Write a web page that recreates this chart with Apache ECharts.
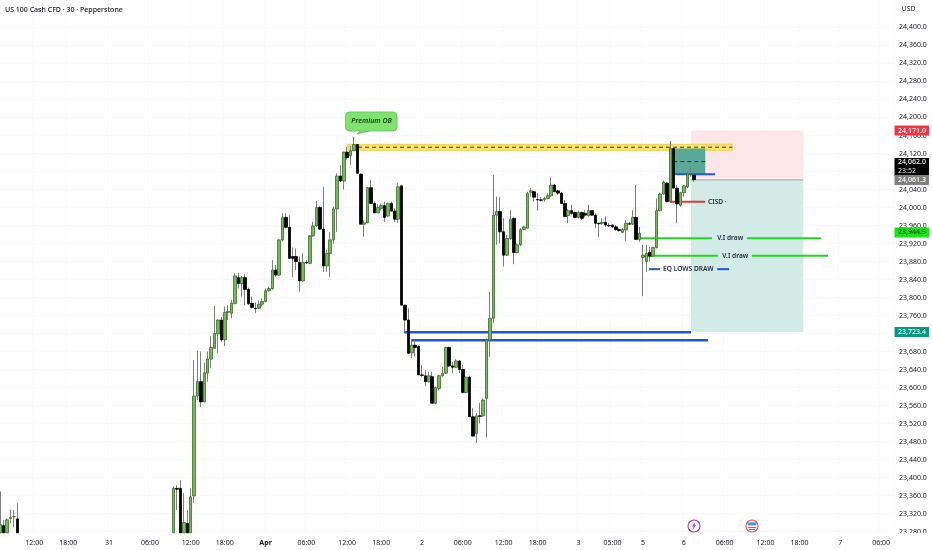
<!DOCTYPE html>
<html>
<head>
<meta charset="utf-8">
<script src="https://cdn.jsdelivr.net/npm/echarts@6/dist/echarts.min.js"></script>
<style>html,body{margin:0;padding:0;background:#fff}#c{width:932px;height:550px}</style>
</head>
<body>
<div id="c"></div>
<script>
// [open, high, low, close]
const firstBars = [
[23277,23369,23277,23295],[23293,23306,23277,23277],[23277,23309,23277,23306],[23309,23329,23298,23311],[23313,23328,23289,23313],[23308,23343,23277,23277]
];
const firstBarsStart = 0;
const riseBars = [
[23277,23380,23277,23376],[23376,23383,23328,23374],[23376,23394,23277,23277],[23277,23365,23277,23300],[23298,23328,23277,23277],[23277,23376,23277,23357],
[23359,23661,23343,23581],[23581,23682,23572,23613],[23613,23680,23557,23568],[23568,23655,23567,23633],[23632,23680,23613,23663],[23663,23714,23643,23689],
[23687,23781,23687,23720],[23719,23751,23677,23750],[23750,23757,23702,23706],[23706,23780,23692,23767],[23767,23783,23750,23769],[23765,23794,23754,23787],
[23786,23854,23786,23848],[23844,23855,23820,23831],[23831,23848,23802,23844],[23844,23852,23783,23818],[23818,23822,23783,23786],[23787,23802,23776,23778],
[23776,23789,23766,23775],[23776,23794,23774,23785],[23785,23798,23780,23791],[23791,23820,23789,23815],[23815,23824,23813,23820],[23820,23883,23817,23861],
[23861,23872,23846,23850],[23850,23929,23848,23928],[23928,23987,23924,23978],[23978,23987,23954,23956],[23956,23983,23886,23887],[23891,23911,23845,23887],
[23891,23909,23861,23880],[23878,23891,23813,23837],[23837,23898,23835,23878],[23878,23883,23874,23877],[23876,23939,23874,23937],[23937,23968,23935,23959],
[23959,24014,23957,24000],[24000,24003,23950,23952],[23952,24046,23857,23870],[23870,23906,23857,23898],[23898,23946,23846,23928],[23928,24002,23919,23997],
[23997,24076,23946,24070],[24070,24094,24057,24059],[24059,24124,24040,24123],[24123,24135,24106,24111],[24115,24137,24094,24126],[24126,24157,24126,24140],
[24140,24141,24076,24076]
];
const riseBarsStart = 51;
const fallBars = [
[24074,24076,23963,23963],[23963,23971,23935,23966],[23966,24045,23965,24044],[24044,24061,24009,24009],[24009,24013,23987,23988],[23988,24008,23988,24000],
[23998,24009,23994,24004],[24004,24013,23968,23978],[23981,24011,23978,24009],[24009,24013,23991,23992],[23992,23998,23968,23974],[23974,24055,23966,24046],
[24048,24050,23783,23783],[23783,23784,23724,23750],[23750,23776,23676,23676],[23677,23706,23665,23694],[23694,23704,23669,23689],[23691,23694,23628,23628],
[23628,23650,23624,23627],[23626,23639,23603,23613],[23613,23635,23611,23626],[23624,23635,23565,23565],[23565,23602,23563,23600],[23598,23628,23594,23626],
[23626,23646,23624,23632],[23632,23691,23630,23689],[23689,23691,23646,23648],[23648,23657,23632,23645],[23645,23663,23643,23659],[23659,23661,23632,23640],
[23640,23650,23587,23589],[23589,23624,23587,23623],[23623,23626,23535,23535],[23535,23554,23492,23492],[23498,23543,23477,23537],[23537,23566,23520,23536],
[23537,23576,23535,23572]
];
const fallBarsStart = 106;
const reboundBars = [
[23576,23709,23489,23706],[23706,23813,23668,23754],[23754,24072,23743,23983],[23983,24024,23917,23991],[23991,24023,23920,23946],[23946,23976,23869,23894],
[23894,23939,23892,23931],[23931,23994,23928,23974],[23976,23978,23874,23900],[23900,23920,23898,23917],[23917,23954,23914,23951],[23951,23959,23950,23957],
[23954,24035,23954,24032],[24034,24043,24024,24037],[24035,24037,24013,24023],[24018,24032,23993,24017],[24017,24023,24013,24016],[24017,24024,24013,24020],
[24020,24032,24018,24026],[24026,24067,24024,24050],[24050,24052,24034,24035],[24037,24039,24028,24032],[24032,24035,24009,24009],[24009,24017,23978,23980],
[23982,23996,23965,23993],[23993,24006,23983,23987],[23989,23991,23976,23978],[23978,23993,23976,23989],[23989,23991,23972,23976],[23987,23994,23978,23983],
[23982,24006,23980,23993],[23993,23994,23981,23983],[23983,23987,23954,23965],[23965,23966,23934,23964],[23965,23976,23961,23967],[23967,23980,23957,23961],
[23960,23965,23957,23959],[23961,23963,23954,23957],[23957,23961,23948,23951],[23951,23954,23946,23949],[23945,23954,23943,23951],[23950,23972,23926,23965],
[23964,23968,23961,23963],[23963,23994,23961,23978],[23978,24050,23928,23929],[23929,23957,23924,23943],[23889,23917,23803,23894],[23880,23917,23857,23898],
[23900,23913,23880,23892],[23892,23913,23891,23911],[23911,24020,23909,23993],[23993,24033,23991,24030],[24030,24060,24028,24056],[24054,24057,24011,24013],
[24013,24148,24013,24131],[24131,24131,24043,24043],[24043,24050,23965,24008],[24005,24035,24002,24033],[24033,24050,24024,24048],[24046,24080,24043,24074],
[24073,24089,24068,24075],[24072,24076,24057,24062]
];
const reboundBarsStart = 143;
const barSlots = 263;

const timeLabels = ['12:00','18:00','31','06:00','12:00','18:00','Apr','06:00','12:00','18:00','2','06:00','12:00','18:00','3','05:00','5','6','06:00','12:00','18:00','7','06:00'];
const timeLabelBars = [10,20,32,44,56,66,78,90,102,112,124,136,148,158,170,180,189,201,213,225,235,247,259];
const priceTicks = [24400,24360,24320,24280,24240,24200,24160,24120,24080,24040,24000,23960,23920,23880,23840,23800,23760,23720,23680,23640,23600,23560,23520,23480,23440,23400,23360,23320,23280];

// [startBar, endBar, priceA, priceB]
const zones = [
  [203.1,236.1,24171,24061.3],
  [203.1,236.1,24061.3,23723.4],
  [102.2,215.2,24140.4,24127],
  [197.9,207.3,24131,24074]
];
const zoneFills = ['#fde6e7','#d3ebe6','#fbe36f','#5aa998'];
const zoneEdges = [null,null,'#e7c544',null];

// [startBar, endBar, price]
const levels = [
  [105.2,215.2,24134],[197.9,207.3,24102],[203.1,236.1,24061.3],
  [197.9,210.2,24074],[196.9,207.3,24013],
  [188.1,209.3,23931.4],[219.6,241.4,23931.4],
  [189,211,23892.9],[221,243.4,23892.9],
  [190.8,194,23863],[210.8,214.3,23863],
  [118.7,203.1,23722.7],[120.8,208.1,23705]
];
const levelColors = ['#3d3a1a','#243f38','#a4a4a4','#1f57dc','#e0383e','#1fd81f','#1fd81f','#1fd81f','#1fd81f','#1f57dc','#1f57dc','#1f57dc','#1f57dc'];
const levelWidths = [1,1,1,2,2,2,2,2,2,2,2,2.4,2.4];
const levelDashed = [1,1,0,0,0,0,0,0,0,0,0,0,0];

const noteTexts = ['CISD ·','V.I draw','V.I draw','EQ LOWS DRAW'];
// [bar, price]
const notePositions = [[208.1,24013],[210.8,23931.4],[212.3,23892.9],[194.9,23863]];

const calloutText = 'Premium OB';
const calloutAnchor = [105.2,24210]; // [bar, price]

const tagTexts = ['24,171.0','24,062.0','24,061.3','23,944.5','23,723.4'];
const tagPrices = [24171,24062,24061.3,23944.5,23723.4];
const tagFills = ['#f23645','#000000','#808080','#14e414','#089981'];
const tagInk = ['#fff','#fff','#fff','#0b3d0b','#fff'];

const FONT = '"Noto Sans", "Open Sans", sans-serif';

const pad = (rows, start, out) => rows.forEach((r, k) => { out[start + k] = r; });
const bars = new Array(barSlots).fill(null);
pad(firstBars, firstBarsStart, bars);
pad(riseBars, riseBarsStart, bars);
pad(fallBars, fallBarsStart, bars);
pad(reboundBars, reboundBarsStart, bars);

const blank = ['-','-','-','-'];
const wickData = bars.map(r => r ? [r[0], r[3], r[2], r[1]] : blank);
const bodyData = bars.map(r => r ? [r[0], r[3], Math.min(r[0], r[3]), Math.max(r[0], r[3])] : blank);

const categories = new Array(barSlots).fill('');
timeLabelBars.forEach((b, k) => { categories[b] = timeLabels[k]; });

const fmtPrice = v => v.toLocaleString('en-US', {minimumFractionDigits: 1, maximumFractionDigits: 1});

const option = {
  animation: false,
  backgroundColor: '#ffffff',
  title: [
    {text: 'US 100 Cash CFD · 30 · Pepperstone', left: 5, top: 6, padding: 0, textStyle: {fontFamily: FONT, fontSize: 7, fontWeight: 500, color: '#131722'}},
    {text: 'USD', left: 901.7, top: 6, padding: 0, textStyle: {fontFamily: FONT, fontSize: 6.8, fontWeight: 400, color: '#131722'}}
  ],
  grid: {left: -1.4, right: 39, top: 0, height: 533, containLabel: false, outerBoundsMode: 'none'},
  xAxis: [
    {
      type: 'category', data: categories, boundaryGap: true, z: 0,
      axisLine: {show: false}, axisTick: {show: false},
      axisLabel: {
        color: '#131722', fontFamily: FONT, fontSize: 7, margin: 6, hideOverlap: false,
        interval: (i, v) => v !== '',
        formatter: v => v === 'Apr' ? '{b|Apr}' : v,
        rich: {b: {fontWeight: 700, fontSize: 7, color: '#131722', fontFamily: FONT}}
      },
      splitLine: {show: true, interval: (i, v) => v !== '', lineStyle: {color: '#f8f9fa', width: 1}}
    },
    {type: 'value', min: -0.5, max: barSlots - 0.5, show: false}
  ],
  yAxis: {
    type: 'value', position: 'right', min: 23276.7, max: 24461.1, z: 0,
    axisLine: {show: false},
    axisTick: {show: false, customValues: priceTicks},
    axisLabel: {color: '#131722', fontFamily: FONT, fontSize: 7, margin: 6, padding: [1, 0, 0, 0], customValues: priceTicks, formatter: fmtPrice, showMinLabel: true, showMaxLabel: true},
    splitLine: {show: true, lineStyle: {color: '#f8f9fa', width: 1}}
  },
  graphic: [
    {type: 'rect', z: 1, shape: {x: 893, y: 533, width: 39, height: 17}, style: {fill: '#fff'}},
    {type: 'group', x: 694, y: 526, z: 5, children: [
      {type: 'circle', z: 5, shape: {cx: 0, cy: 0, r: 6}, style: {fill: '#fff', stroke: '#a33fc0', lineWidth: 1.1}},
      {type: 'polygon', z: 6, shape: {points: [[1.2,-3.6],[-2.2,0.6],[-0.3,0.6],[-1.2,3.6],[2.2,-0.8],[0.3,-0.8]]}, style: {fill: '#a33fc0'}}
    ]},
    {type: 'group', x: 752, y: 526, z: 5, children: [
      {type: 'circle', z: 5, shape: {cx: 0, cy: 0, r: 6}, style: {fill: '#fff', stroke: '#ef5350', lineWidth: 1.1}},
      {type: 'rect', z: 6, shape: {x: -4.4, y: -3.6, width: 8.8, height: 3}, style: {fill: '#4a90d9'}},
      {type: 'rect', z: 6, shape: {x: -4.2, y: 0.9, width: 8.4, height: 1.1}, style: {fill: '#e0555a'}},
      {type: 'rect', z: 6, shape: {x: -3.2, y: 3, width: 6.4, height: 1}, style: {fill: '#e0555a'}}
    ]}
  ],
  series: [
    {
      type: 'custom', name: 'zones', xAxisIndex: 1, yAxisIndex: 0, z: 1, silent: true, clip: true,
      data: zones,
      renderItem: (p, api) => {
        const a = api.coord([api.value(0), api.value(2)]);
        const b = api.coord([api.value(1), api.value(3)]);
        return {type: 'rect', shape: {x: a[0], y: a[1], width: b[0] - a[0], height: b[1] - a[1]},
          style: {fill: zoneFills[p.dataIndex], stroke: zoneEdges[p.dataIndex], lineWidth: 0.8}};
      }
    },
    {
      type: 'custom', name: 'levels', xAxisIndex: 1, yAxisIndex: 0, z: 2, silent: true, clip: true,
      data: levels,
      renderItem: (p, api) => {
        const a = api.coord([api.value(0), api.value(2)]);
        const b = api.coord([api.value(1), api.value(2)]);
        const k = p.dataIndex;
        return {type: 'line', shape: {x1: a[0], y1: a[1], x2: b[0], y2: b[1]},
          style: {stroke: levelColors[k], lineWidth: levelWidths[k], lineDash: levelDashed[k] ? [4, 3] : null}};
      }
    },
    {
      type: 'custom', name: 'notes', xAxisIndex: 1, yAxisIndex: 0, z: 2, silent: true, clip: true,
      data: notePositions,
      renderItem: (p, api) => {
        const a = api.coord([api.value(0), api.value(1)]);
        return {type: 'text', style: {x: a[0], y: a[1], text: noteTexts[p.dataIndex], fill: '#1a2a3a',
          font: '600 6.6px ' + FONT, textAlign: 'left', textVerticalAlign: 'middle'}};
      }
    },
    {
      type: 'custom', name: 'callout', xAxisIndex: 1, yAxisIndex: 0, z: 2, silent: true, clip: true,
      data: [calloutAnchor],
      renderItem: (p, api) => {
        const a = api.coord([api.value(0), api.value(1)]);
        return {type: 'group', x: a[0], y: a[1], children: [
          {type: 'polygon', shape: {points: [[-1, 21], [3, 17], [15, 17]]}, style: {fill: '#7fe36f', stroke: '#57b957', lineWidth: 0.8}},
          {type: 'rect', shape: {x: -12.5, y: -1, width: 51.5, height: 19, r: 4}, style: {fill: '#7fe36f', stroke: '#5cc05a', lineWidth: 0.8}},
          {type: 'polygon', shape: {points: [[1, 17.4], [3, 16], [15, 16], [15, 17.4]]}, style: {fill: '#7fe36f'}},
          {type: 'text', style: {x: 13.5, y: 8.5, text: calloutText, fill: '#17401a', font: 'italic 600 7px ' + FONT, textAlign: 'center', textVerticalAlign: 'middle'}}
        ]};
      }
    },
    {
      type: 'candlestick', name: 'wicks', xAxisIndex: 0, yAxisIndex: 0, z: 3, barWidth: 1, silent: true,
      itemStyle: {color: '#7d7d7d', color0: '#7d7d7d', borderColor: '#7d7d7d', borderColor0: '#7d7d7d', borderWidth: 1},
      data: wickData
    },
    {
      type: 'candlestick', name: 'bodies', xAxisIndex: 0, yAxisIndex: 0, z: 4, barWidth: 3, silent: true,
      itemStyle: {color: '#76b95b', color0: '#000000', borderColor: '#3a6e2a', borderColor0: '#000000', borderWidth: 0.8},
      data: bodyData
    },
    {
      type: 'custom', name: 'tags', xAxisIndex: 1, yAxisIndex: 0, z: 6, silent: true, clip: false,
      data: tagPrices.map(v => [0, v]),
      renderItem: (p, api) => {
        const k = p.dataIndex;
        const y = api.coord([0, api.value(1)])[1];
        const ink = tagInk[k];
        const font = '500 7px ' + FONT;
        if (k === 1) {
          return {type: 'group', children: [
            {type: 'rect', shape: {x: 894.5, y: y - 21.6, width: 34.5, height: 18}, style: {fill: tagFills[k]}},
            {type: 'text', style: {x: 912, y: y - 17.2, text: tagTexts[k], fill: ink, font, textAlign: 'center', textVerticalAlign: 'middle'}},
            {type: 'text', style: {x: 907, y: y - 8.4, text: '23:52', fill: '#e6e6e6', font: '7px ' + FONT, textAlign: 'center', textVerticalAlign: 'middle'}}
          ]};
        }
        return {type: 'group', children: [
          {type: 'rect', shape: {x: 894.5, y: y - 5, width: 34.5, height: 10}, style: {fill: tagFills[k]}},
          {type: 'text', style: {x: 912, y: y, text: tagTexts[k], fill: ink, font, textAlign: 'center', textVerticalAlign: 'middle'}}
        ]};
      }
    }
  ]
};
echarts.init(document.getElementById('c'), null, {renderer: 'canvas'}).setOption(option);
</script>
</body>
</html>
